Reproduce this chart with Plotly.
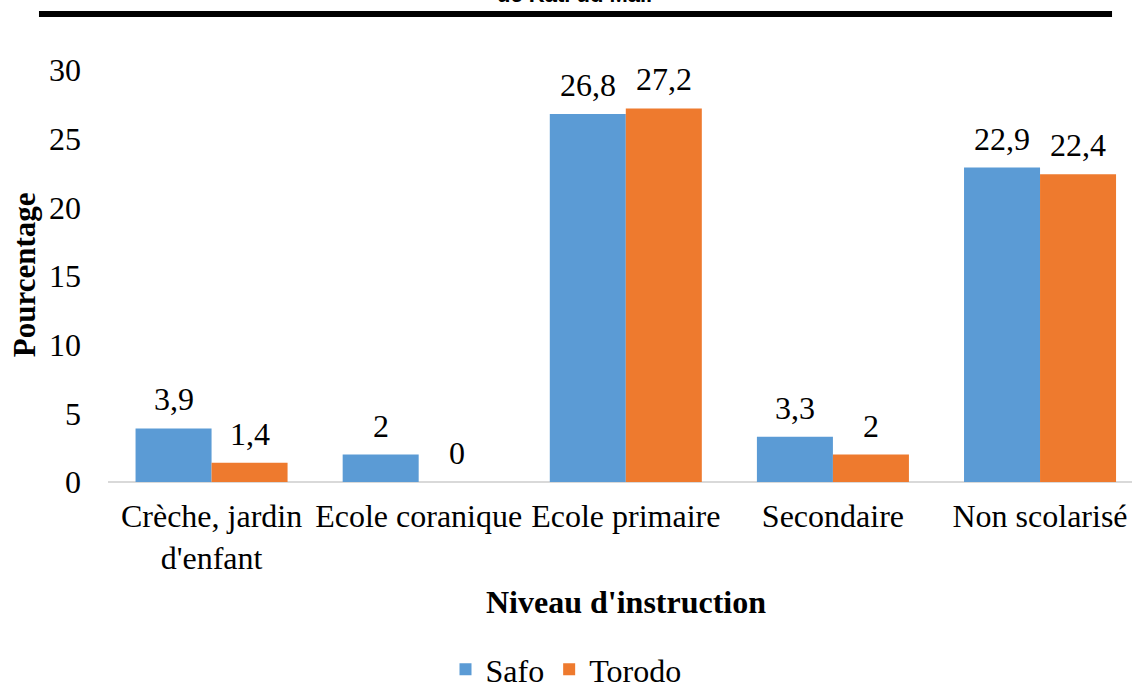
import plotly.graph_objects as go

categories = ["Crèche, jardin<br>d'enfant", "Ecole coranique", "Ecole primaire", "Secondaire", "Non scolarisé"]
safo = [3.9, 2, 26.8, 3.3, 22.9]
torodo = [1.4, 0, 27.2, 2, 22.4]
y_ticks = [0, 5, 10, 15, 20, 25, 30]


def fmt(v):
    s = ("%g" % v)
    return s.replace(".", ",")


SERIF = "Liberation Serif"
BLUE = "#5B9BD5"
ORANGE = "#EE7A2E"
FS = 32

fig = go.Figure()
fig.add_trace(go.Bar(name="Safo", x=categories, y=safo, marker=dict(color=BLUE, line=dict(width=0))))
fig.add_trace(go.Bar(name="Torodo", x=categories, y=torodo, marker=dict(color=ORANGE, line=dict(width=0))))

annotations = []
for cat, v in zip(categories, safo):
    annotations.append(dict(x=cat, y=v, xref="x", yref="y", text=fmt(v), showarrow=False,
                            xshift=-38, yshift=29, yanchor="middle",
                            font=dict(family=SERIF, size=FS, color="#000")))
for cat, v in zip(categories, torodo):
    annotations.append(dict(x=cat, y=v, xref="x", yref="y", text=fmt(v), showarrow=False,
                            xshift=38, yshift=29, yanchor="middle",
                            font=dict(family=SERIF, size=FS, color="#000")))

# axis titles
annotations.append(dict(x=categories[2], y=-0.291, xref="x", yref="paper", text="<b>Niveau d'instruction</b>",
                        showarrow=False, yanchor="middle",
                        font=dict(family=SERIF, size=FS, color="#000")))
annotations.append(dict(x=-0.082, y=0.502, xref="paper", yref="paper", text="<b>Pourcentage</b>",
                        showarrow=False, textangle=-90, xanchor="center", yanchor="middle",
                        font=dict(family=SERIF, size=31, color="#000")))
# cut-off title (only its lower edge is visible in the reference)
annotations.append(dict(x=0.456, y=1.147, xref="paper", yref="paper", text="<b>de Kati du Mali</b>",
                        showarrow=False, yanchor="bottom", xanchor="center",
                        font=dict(family="Liberation Sans", size=22, color="#000")))

fig.update_layout(
    width=1132, height=688, autosize=False,
    margin=dict(l=108, r=0, t=70, b=206),
    paper_bgcolor="white", plot_bgcolor="white",
    barmode="group", bargap=0.266, bargroupgap=0,
    font=dict(family=SERIF, size=FS, color="#000"),
    annotations=annotations,
    shapes=[dict(type="line", xref="paper", yref="paper", x0=-0.0674, x1=0.9805, y0=1.136, y1=1.136,
                 line=dict(color="black", width=6))],
    legend=dict(orientation="h", xref="container", yref="container", x=0.5, y=0.027,
                xanchor="center", yanchor="middle", font=dict(family=SERIF, size=FS, color="#000"),
                itemwidth=30, traceorder="normal"),
    xaxis=dict(categoryorder="array", categoryarray=categories, range=[-0.5, 4.444],
               showline=False, showgrid=False, ticks="", ticklabelstandoff=12,
               tickfont=dict(family=SERIF, size=FS, color="#000")),
    yaxis=dict(range=[0, 30], tickvals=y_ticks, showgrid=False, showline=False, ticks="",
               zeroline=True, zerolinecolor="#D9D9D9", zerolinewidth=2,
               ticklabelstandoff=26, tickfont=dict(family=SERIF, size=FS, color="#000")),
)

fig.write_html("out.html", config={"displayModeBar": False},
               post_script="document.body.style.margin='0';document.body.style.overflow='hidden';")
